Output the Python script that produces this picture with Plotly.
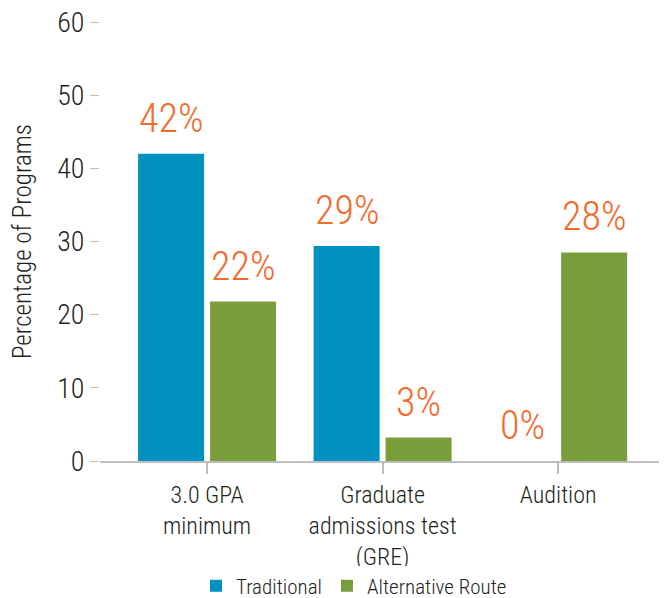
import plotly.graph_objects as go

categories = ["3.0 GPA<br>minimum", "Graduate<br>admissions test<br>(GRE)", "Audition"]
traditional = [42.0, 29.4, 0.0]
alternative = [21.8, 3.2, 28.5]
traditional_labels = ["42%", "29%", "0%"]
alternative_labels = ["22%", "3%", "28%"]

blue = "#0091BE"
green = "#7A9D3B"
orange = "#F26B2D"
grey = "#BDBDBD"
font_family = "Roboto Condensed, Liberation Sans Narrow, Arial Narrow, Roboto, sans-serif"

fig = go.Figure()
fig.add_bar(x=categories, y=traditional, name="Traditional",
            marker=dict(color=blue, line=dict(width=0)))
fig.add_bar(x=categories, y=alternative, name="Alternative Route",
            marker=dict(color=green, line=dict(width=0)))
fig.update_traces(hoverinfo="x+y+name")

# value labels sit a little above each bar (left bar / right bar of each group)
for vals, labels, shift in [(traditional, traditional_labels, -36), (alternative, alternative_labels, 36)]:
    for cat, v, lab in zip(categories, vals, labels):
        fig.add_annotation(
            x=cat, y=v, text=lab, showarrow=False,
            xshift=shift, yshift=10, yanchor="bottom",
            font=dict(family=font_family, size=40, color=orange, weight=300),
        )

# page body has an 8px margin, so the figure is 8px smaller than the window
fig.update_layout(
    width=659,
    height=590,
    margin=dict(l=92, r=0, t=14, b=137, autoexpand=False),
    barmode="group",
    bargap=0.18,
    bargroupgap=0.083,
    plot_bgcolor="white",
    paper_bgcolor="white",
    font=dict(family=font_family, size=22, color="#231F20", weight=300),
    xaxis=dict(
        range=[-0.61, 2.62],
        showline=True,
        linecolor=grey,
        linewidth=2,
        ticks="outside",
        ticklen=11,
        tickcolor=grey,
        tickwidth=2,
        showgrid=False,
        tickfont=dict(size=24, weight=300),
    ),
    yaxis=dict(
        range=[0, 60],
        dtick=10,
        ticks="outside",
        ticklen=9,
        tickcolor=grey,
        tickwidth=1,
        showgrid=False,
        zeroline=False,
        showline=False,
        ticklabeloverflow="allow",
        tickfont=dict(size=28, weight=300),
        title=dict(text="Percentage of Programs", font=dict(size=25, weight=300), standoff=18),
    ),
    legend=dict(
        orientation="h",
        xref="container",
        yref="container",
        x=0.525,
        xanchor="center",
        y=0.02,
        yanchor="middle",
        font=dict(size=21, weight=300),
    ),
)

fig.write_html("out.html")
